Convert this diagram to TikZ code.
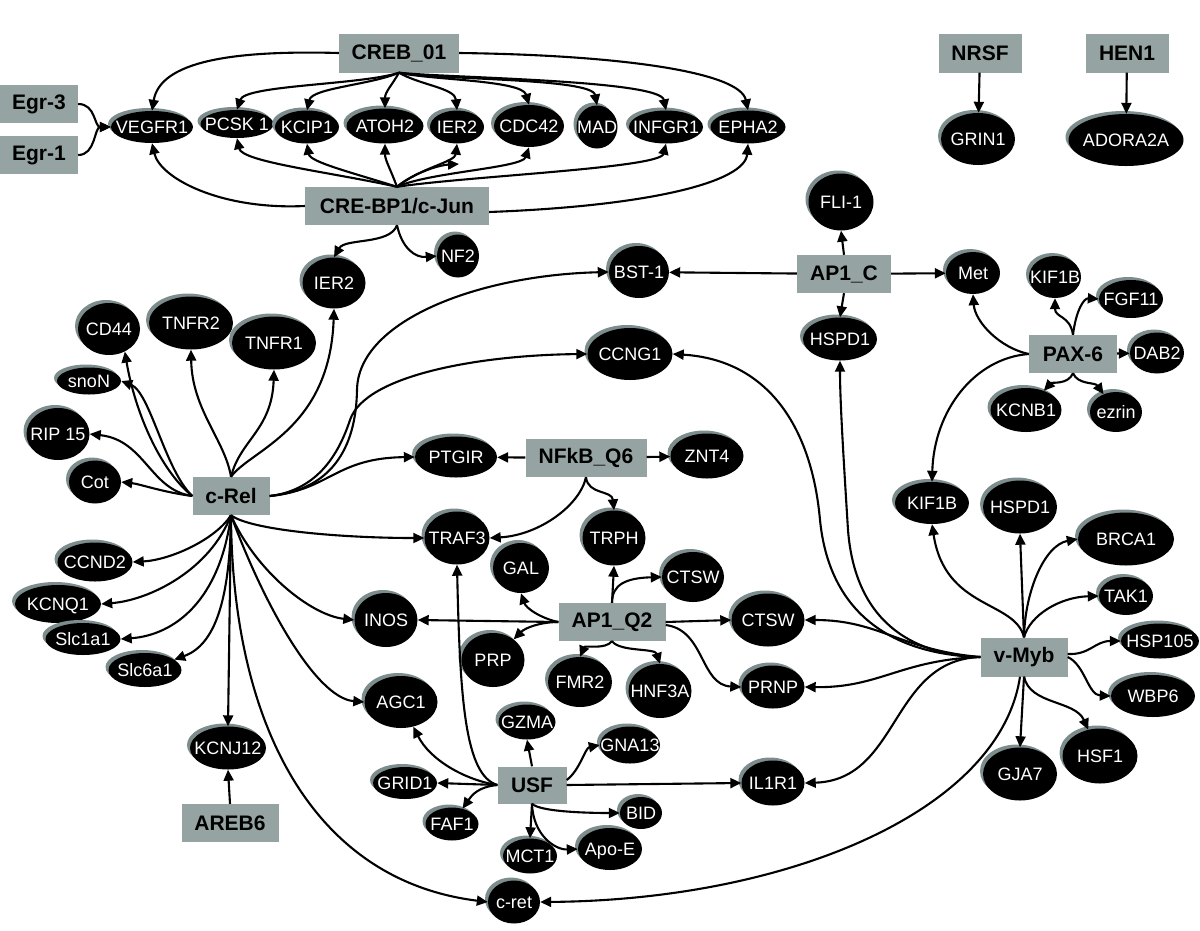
\documentclass[tikz,border=0pt]{standalone}
\usepackage{fontspec}
\setmainfont{Liberation Sans}
\usetikzlibrary{shapes.geometric,arrows.meta,shadows}
\definecolor{boxgray}{RGB}{150,163,163}
\definecolor{shadegray}{RGB}{125,140,140}
\newcommand\glab[1]{\raisebox{-0.36em}[0pt][0pt]{\makebox[0pt]{#1}}}
\newcommand\genenode[6]{\node[gene,minimum width=#4pt,minimum height=#5pt] (#1) at (#2,#3) {\glab{#6}};}
\newcommand\tfnode[6]{\node[tf,minimum width=#4pt,minimum height=#5pt] (#1) at (#2,#3) {#6};}
\begin{document}
\begin{tikzpicture}[x=1pt,y=-1pt,
 gene/.style={ellipse,fill=black,text=white,inner sep=0pt,font=\fontsize{18}{21}\selectfont,
   general shadow={fill=shadegray,shadow xshift=-3pt,shadow yshift=3pt}},
 tf/.style={rectangle,fill=boxgray,inner sep=0pt,font=\fontsize{21}{25}\selectfont\bfseries},
 edge/.style={draw=black,line width=2.1pt,-{Triangle[length=11pt,width=10pt]}}]
\useasboundingbox (0,0) rectangle (1200,930);
% transcription factors
\tfnode{creb}{399}{53}{120}{39}{CREB\_01}
\tfnode{egr3}{39}{104}{78}{38}{Egr-3}
\tfnode{egr1}{39}{155}{78}{38}{Egr-1}
\tfnode{crebp}{397}{206}{184}{38}{CRE-BP1/c-Jun}
\tfnode{nrsf}{980}{53}{83}{39}{NRSF}
\tfnode{hen1}{1127}{53}{83}{39}{HEN1}
\tfnode{ap1c}{844}{274}{94}{38}{AP1\_C}
\tfnode{pax6}{1073}{354}{88}{38}{PAX-6}
\tfnode{crel}{231}{496}{77}{38}{c-Rel}
\tfnode{nfkb}{586}{458}{121}{38}{NFkB\_Q6}
\tfnode{ap1q2}{612}{622}{107}{38}{AP1\_Q2}
\tfnode{vmyb}{1024}{657}{87}{39}{v-Myb}
\tfnode{usf}{532}{785}{69}{37}{USF}
\tfnode{areb6}{230}{823}{97}{38}{AREB6}
% genes
\genenode{vegfr1}{152}{127}{82}{32}{VEGFR1}
\genenode{pcsk1}{237}{124}{73}{28}{PCSK 1}
\genenode{kcip1}{307}{127}{64}{33}{KCIP1}
\genenode{atoh2}{385}{126}{77}{35}{ATOH2}
\genenode{ier2a}{457}{127}{54}{33}{IER2}
\genenode{cdc42}{529}{126}{70}{42}{CDC42}
\genenode{mad}{597}{127}{41}{43}{MAD}
\genenode{infgr1}{666}{127}{74}{33}{INFGR1}
\genenode{epha2}{748}{127}{75}{33}{EPHA2}
\genenode{grin1}{978}{139}{74}{52}{GRIN1}
\genenode{adora}{1126}{140}{115}{52}{ADORA2A}
\genenode{fli1}{841}{202}{65}{57}{FLI-1}
\genenode{nf2}{458}{256}{42}{43}{NF2}
\genenode{ier2b}{334}{283}{63}{51}{IER2}
\genenode{bst1}{639}{272}{60}{52}{BST-1}
\genenode{met}{973}{273}{54}{42}{Met}
\genenode{kif1ba}{1055}{277}{52}{42}{KIF1B}
\genenode{fgf11}{1131}{299}{64}{38}{FGF11}
\genenode{dab2}{1157}{353}{54}{41}{DAB2}
\genenode{kcnb1}{1026}{410}{71}{44}{KCNB1}
\genenode{ezrin}{1116}{412}{52}{40}{ezrin}
\genenode{hspd1a}{840}{339}{74}{43}{HSPD1}
\genenode{ccng1}{630}{354}{85}{52}{CCNG1}
\genenode{cd44}{109}{329}{62}{52}{CD44}
\genenode{tnfr2}{191}{323}{84}{53}{TNFR2}
\genenode{tnfr1}{274}{343}{84}{53}{TNFR1}
\genenode{snon}{89}{381}{64}{27}{snoN}
\genenode{rip15}{58}{434}{63}{52}{RIP 15}
\genenode{cot}{95}{482}{52}{43}{Cot}
\genenode{ptgir}{456}{457}{82}{41}{PTGIR}
\genenode{znt4}{707}{456}{73}{45}{ZNT4}
\genenode{traf3}{457}{538}{65}{53}{TRAF3}
\genenode{trph}{614}{538}{63}{55}{TRPH}
\genenode{gal}{521}{568}{56}{50}{GAL}
\genenode{ctswa}{693}{577}{62}{50}{CTSW}
\genenode{kif1bb}{932}{503}{74}{42}{KIF1B}
\genenode{hspd1b}{1020}{507}{74}{53}{HSPD1}
\genenode{brca1}{1126}{539}{96}{53}{BRCA1}
\genenode{tak1}{1126}{596}{54}{38}{TAK1}
\genenode{hsp105}{1160}{641}{78}{35}{HSP105}
\genenode{wbp6}{1153}{696}{84}{42}{WBP6}
\genenode{hsf1}{1100}{756}{75}{55}{HSF1}
\genenode{gja7}{1020}{774}{74}{53}{GJA7}
\genenode{ccnd2}{95}{562}{75}{39}{CCND2}
\genenode{kcnq1}{58}{604}{86}{38}{KCNQ1}
\genenode{slc1a1}{83}{639}{75}{32}{Slc1a1}
\genenode{slc6a1}{145}{670}{73}{34}{Slc6a1}
\genenode{inos}{386}{620}{63}{54}{INOS}
\genenode{ctswb}{768}{620}{73}{53}{CTSW}
\genenode{prp}{493}{660}{63}{54}{PRP}
\genenode{fmr2}{580}{682}{64}{50}{FMR2}
\genenode{hnf3a}{660}{691}{63}{54}{HNF3A}
\genenode{prnp}{773}{687}{63}{43}{PRNP}
\genenode{agc1}{401}{702}{73}{52}{AGC1}
\genenode{gzma}{527}{722}{57}{35}{GZMA}
\genenode{gna13}{630}{745}{60}{37}{GNA13}
\genenode{il1r1}{773}{783}{63}{45}{IL1R1}
\genenode{grid1}{405}{783}{64}{32}{GRID1}
\genenode{faf1}{452}{824}{53}{33}{FAF1}
\genenode{bid}{641}{813}{42}{32}{BID}
\genenode{mct1}{530}{856}{54}{35}{MCT1}
\genenode{apoe}{610}{849}{64}{42}{Apo-E}
\genenode{kcnj12}{228}{748}{76}{43}{KCNJ12}
\genenode{cret}{514}{902}{52}{43}{c-ret}
\coordinate (madtip) at (459,164);
% CREB_01
\draw[edge] (creb.west) .. controls (230,50) and (160,62) .. (vegfr1.north);
\draw[edge] (creb.south) .. controls (360,85) and (245,85) .. (pcsk1.north);
\draw[edge] (creb.south) .. controls (370,85) and (312,88) .. (kcip1.north);
\draw[edge] (creb.south) .. controls (392,85) and (385,92) .. (atoh2.north);
\draw[edge] (creb.south) .. controls (420,85) and (455,88) .. (ier2a.north);
\draw[edge] (creb.south) .. controls (430,80) and (522,80) .. (cdc42.north);
\draw[edge] (creb.south) .. controls (440,80) and (592,78) .. (mad.north);
\draw[edge] (creb.south) .. controls (450,78) and (660,80) .. (infgr1.north);
\draw[edge] (creb.east) .. controls (620,55) and (740,72) .. (epha2.north);
% CRE-BP1/c-Jun
\draw[edge] (crebp.north) .. controls (330,172) and (242,162) .. (pcsk1.south);
\draw[edge] (crebp.north) .. controls (350,172) and (310,162) .. (kcip1.south);
\draw[edge] (crebp.north) .. controls (390,168) and (385,160) .. (atoh2.south);
\draw[edge] (crebp.north) .. controls (420,168) and (455,162) .. (ier2a.south);
\draw[edge] (crebp.north) .. controls (430,172) and (522,168) .. (cdc42.south);
\draw[edge] (crebp.north) .. controls (415,172) and (440,165) .. (madtip);
\draw[edge] (crebp.north) .. controls (470,176) and (660,168) .. (infgr1.south);
\draw[edge] (crebp.west) .. controls (220,210) and (160,178) .. (vegfr1.south);
\draw[edge] ([yshift=-6pt]crebp.east) .. controls (650,206) and (745,182) .. (epha2.south);
\draw[edge] (crebp.south) .. controls (390,245) and (345,238) .. (ier2b.north);
\draw[edge] (crebp.south) .. controls (402,248) and (415,258) .. (nf2.west);
\draw[edge] (egr3.east) .. controls (96,104) and (94,127) .. (vegfr1.west);
\draw[edge] (egr1.east) .. controls (96,155) and (94,127) .. (vegfr1.west);
\draw[edge] (nrsf) -- (grin1);
\draw[edge] (hen1) -- (adora);
% AP1_C
\draw[edge] (ap1c.north) -- (fli1.south);
\draw[edge] (ap1c) -- (bst1);
\draw[edge] (ap1c) -- (met);
\draw[edge] (ap1c.south) -- (hspd1a.north);
% PAX-6
\draw[edge] (pax6.west) .. controls (1000,348) and (975,322) .. (met.south);
\draw[edge] (pax6.west) .. controls (975,358) and (934,410) .. (kif1bb.north);
\draw[edge] (pax6.north) .. controls (1070,315) and (1055,318) .. (kif1ba.south);
\draw[edge] (pax6.north) .. controls (1076,310) and (1084,298) .. (fgf11.west);
\draw[edge] (pax6) -- (dab2);
\draw[edge] (pax6.south) .. controls (1068,385) and (1052,382) .. (kcnb1);
\draw[edge] (pax6.south) .. controls (1078,385) and (1095,382) .. (ezrin);
% c-Rel left
\draw[edge] (crel.west) .. controls (162,492) and (140,484) .. (cot.east);
\draw[edge] (crel.west) .. controls (150,490) and (145,440) .. (rip15.east);
\draw[edge] (crel.west) .. controls (165,470) and (150,392) .. (snon.east);
\draw[edge] (crel.west) .. controls (160,470) and (135,412) .. (cd44.-55);
% c-Rel top
\draw[edge] (crel.north) .. controls (225,440) and (192,410) .. (tnfr2.south);
\draw[edge] (crel.north) .. controls (240,440) and (272,430) .. (tnfr1.south);
\draw[edge] (crel.north) .. controls (250,450) and (330,430) .. (ier2b.south);
% c-Rel right
\draw[edge] (crel.east) .. controls (330,490) and (356,450) .. (357,390) .. controls (358,320) and (480,275) .. (bst1.west);
\draw[edge] (crel.east) .. controls (320,490) and (340,450) .. (350,420) .. controls (365,375) and (480,355) .. (ccng1.west);
\draw[edge] (crel.east) .. controls (330,490) and (335,458) .. (ptgir.west);
\draw[edge] (crel.south) .. controls (250,530) and (340,538) .. (traf3.west);
% c-Rel bottom
\draw[edge] (crel.south) .. controls (215,540) and (170,560) .. (ccnd2.east);
\draw[edge] (crel.south) .. controls (210,570) and (150,600) .. (kcnq1.east);
\draw[edge] (crel.south) .. controls (220,600) and (175,635) .. (slc1a1.east);
\draw[edge] (crel.south) .. controls (230,600) and (215,645) .. (slc6a1);
\draw[edge] (crel.south) -- (kcnj12.north);
\draw[edge] (crel.south) .. controls (255,570) and (310,615) .. (inos.west);
\draw[edge] (crel.south) .. controls (262,600) and (315,698) .. (agc1.west);
\draw[edge] (crel.south) .. controls (232,720) and (310,880) .. (cret.west);
\draw[edge] (areb6.north) -- (kcnj12.south);
% NFkB_Q6
\draw[edge] (nfkb) -- (ptgir);
\draw[edge] (nfkb) -- (znt4);
\draw[edge] (nfkb.south) .. controls (588,495) and (612,490) .. (trph.north);
\draw[edge] (nfkb.south) .. controls (580,505) and (540,535) .. (traf3.east);
% AP1_Q2
\draw[edge] (ap1q2.west) -- (inos.east);
\draw[edge] (ap1q2.west) .. controls (540,618) and (526,608) .. (gal.south);
\draw[edge] (ap1q2.west) .. controls (540,622) and (525,628) .. (prp);
\draw[edge] (ap1q2.north) -- (trph.south);
\draw[edge] (ap1q2.north) .. controls (612,585) and (625,578) .. (ctswa.west);
\draw[edge] (ap1q2.east) -- (ctswb.west);
\draw[edge] ([yshift=-3pt]ap1q2.east) .. controls (705,630) and (700,685) .. (prnp.west);
\draw[edge] (ap1q2.south) .. controls (605,650) and (585,645) .. (fmr2.north);
\draw[edge] (ap1q2.south) .. controls (620,652) and (655,648) .. (hnf3a.north);
% USF
\draw[edge] (usf.west) -- (grid1.east);
\draw[edge] (usf.west) .. controls (465,780) and (430,760) .. (agc1);
\draw[edge] (usf.west) .. controls (478,787) and (472,795) .. (faf1);
\draw[edge] (usf.west) .. controls (465,775) and (460,700) .. (traf3.south);
\draw[edge] (usf.north) -- (gzma.south);
\draw[edge] ([yshift=5pt]usf.east) .. controls (580,770) and (585,748) .. (gna13.west);
\draw[edge] (usf.east) -- (il1r1.west);
\draw[edge] (usf.south) .. controls (540,812) and (590,813) .. (bid.west);
\draw[edge] (usf.south) -- (mct1.north);
\draw[edge] (usf.south) .. controls (533,835) and (555,850) .. (apoe.west);
% v-Myb
\draw[edge] (vmyb.west) .. controls (900,655) and (830,620) .. (820,520) .. controls (812,430) and (770,360) .. (ccng1.east);
\draw[edge] (vmyb.west) .. controls (910,655) and (855,620) .. (848,530) .. controls (843,450) and (840,400) .. (hspd1a.south);
\draw[edge] (vmyb.north) .. controls (1015,600) and (945,610) .. (kif1bb.south);
\draw[edge] (vmyb.north) -- (hspd1b.south);
\draw[edge] (vmyb.north) .. controls (1025,590) and (1045,545) .. (brca1.west);
\draw[edge] (vmyb.north) .. controls (1030,615) and (1060,597) .. (tak1.west);
\draw[edge] ([yshift=3pt]vmyb.east) .. controls (1090,655) and (1095,641) .. (hsp105.west);
\draw[edge] (vmyb.east) .. controls (1085,665) and (1088,695) .. (wbp6.west);
\draw[edge] (vmyb.south) -- (gja7.north);
\draw[edge] (vmyb.south) .. controls (1030,705) and (1075,700) .. (hsf1);
\draw[edge] (vmyb.west) .. controls (900,650) and (880,620) .. (ctswb.east);
\draw[edge] (vmyb.west) .. controls (900,660) and (880,688) .. (prnp.east);
\draw[edge] (vmyb.west) .. controls (890,660) and (900,780) .. (il1r1.east);
\draw[edge] ([xshift=-4pt]vmyb.south) .. controls (1000,810) and (790,900) .. (cret.east);
\end{tikzpicture}
\end{document}
